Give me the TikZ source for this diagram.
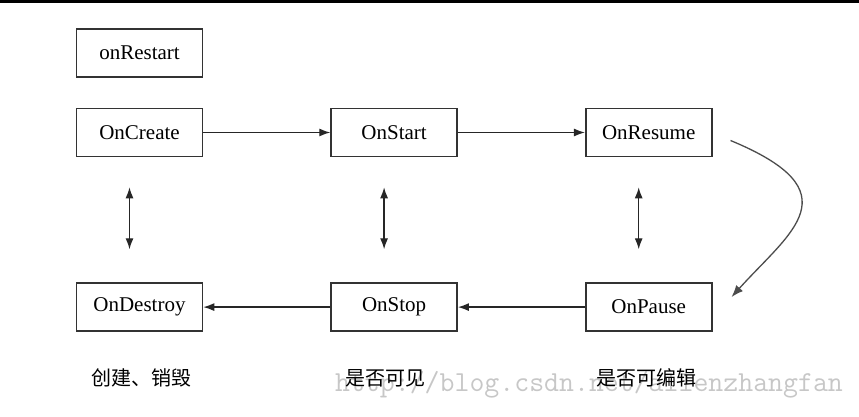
\documentclass[tikz,border=0pt]{standalone}
\usepackage{fontspec}
\setmainfont{Liberation Serif}
\newfontfamily\cjk{Noto Sans CJK SC}
\usetikzlibrary{positioning, arrows.meta}

\begin{document}
\begin{tikzpicture}[
    x=1pt, y=1pt,
    box/.style={rectangle, draw=black!80, line width=1.6pt, minimum width=126pt, minimum height=48pt,
                inner sep=0pt, align=center, font=\fontsize{21}{24}\selectfont},
    note/.style={font=\cjk\fontsize{20}{24}\selectfont},
    link/.style={-{Latex[length=11pt,width=8pt]}, line width=1.3pt, black!85},
    both/.style={{Latex[length=11pt,width=8pt]}-{Latex[length=11pt,width=8pt]}, line width=1.3pt, black!85,
                 shorten <=30pt, shorten >=33pt},
    node distance=125pt and 127pt
]
\useasboundingbox (0,0) rectangle (859,417);
\fill (0,414) rectangle (859,417);

\node[font=\ttfamily\fontsize{29}{32}\selectfont, text=black!22] (wmark) at (589,32) {http://blog.csdn.net/allenzhangfan};

\node[box] (create) at (139.5,284.5) {OnCreate};
\node[box, above=30pt of create] (restart) {onRestart};
\node[box, right=of create] (start) {OnStart};
\node[box, right=of start] (resume) {OnResume};
\node[box, below=of create] (destroy) {OnDestroy};
\node[box, below=of start] (stop) {OnStop};
\node[box, below=of resume] (pause) {OnPause};

\draw[link] (create) -- (start);
\draw[link] (start) -- (resume);
\draw[link] (pause) -- (stop);
\draw[link] (stop) -- (destroy);

\draw[both] ([xshift=-10pt]create.south) -- ([xshift=-10pt]destroy.north);
\draw[both] ([xshift=-10pt]start.south) -- ([xshift=-10pt]stop.north);
\draw[both] ([xshift=-10pt]resume.south) -- ([xshift=-10pt]pause.north);

\draw[-{Latex[length=12pt,width=9pt]}, line width=1.3pt, black!70]
    ([shift={(18pt,-8pt)}]resume.east) .. controls (855,225) and (790,185) .. ([shift={(19pt,10pt)}]pause.east);

\node[note] (lcreate) at (141,39) {创建、销毁};
\node[note] (lstop) at (385,39) {是否可见};
\node[note] (lpause) at (646,39) {是否可编辑};
\end{tikzpicture}
\end{document}
